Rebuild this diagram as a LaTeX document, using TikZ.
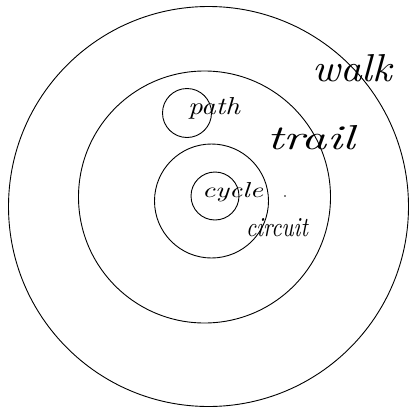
\documentclass[tikz,border=0pt]{standalone}
\usepackage{graphicx}
\begin{document}
\begin{tikzpicture}[x=1pt,y=-1pt,
  ring/.style={draw=black,line width=0.9pt},
  hand/.style={anchor=base west,inner sep=0pt,outer sep=0pt}]
\useasboundingbox (0,0) rectangle (409,410);
\coordinate (walkc) at (208.5,206.5);
\coordinate (trailc) at (204.5,197);
\coordinate (circuitc) at (211.5,201);
\coordinate (cyclec) at (215,196);
\coordinate (pathc) at (187,113);
\draw[ring] (walkc) circle (200);
\draw[ring] (trailc) circle (126);
\draw[ring] (circuitc) circle (57);
\draw[ring] (cyclec) circle (24);
\draw[ring] (pathc) circle (24.5);
\fill (285,196) circle (0.9);
\node[hand] (walk) at (312,81) {\resizebox{80pt}{27pt}{\itshape walk}};
\node[hand] (trail) at (267,149) {\resizebox{88pt}{24pt}{\itshape trail}};
\node[hand] (path) at (188,114) {\resizebox{52pt}{17pt}{\itshape path}};
\node[hand] (cycle) at (202,197) {\resizebox{61pt}{15pt}{\itshape cycle}};
\node[hand] (circuit) at (246,236) {\resizebox{62pt}{18pt}{\itshape circuit}};
\end{tikzpicture}
\end{document}
